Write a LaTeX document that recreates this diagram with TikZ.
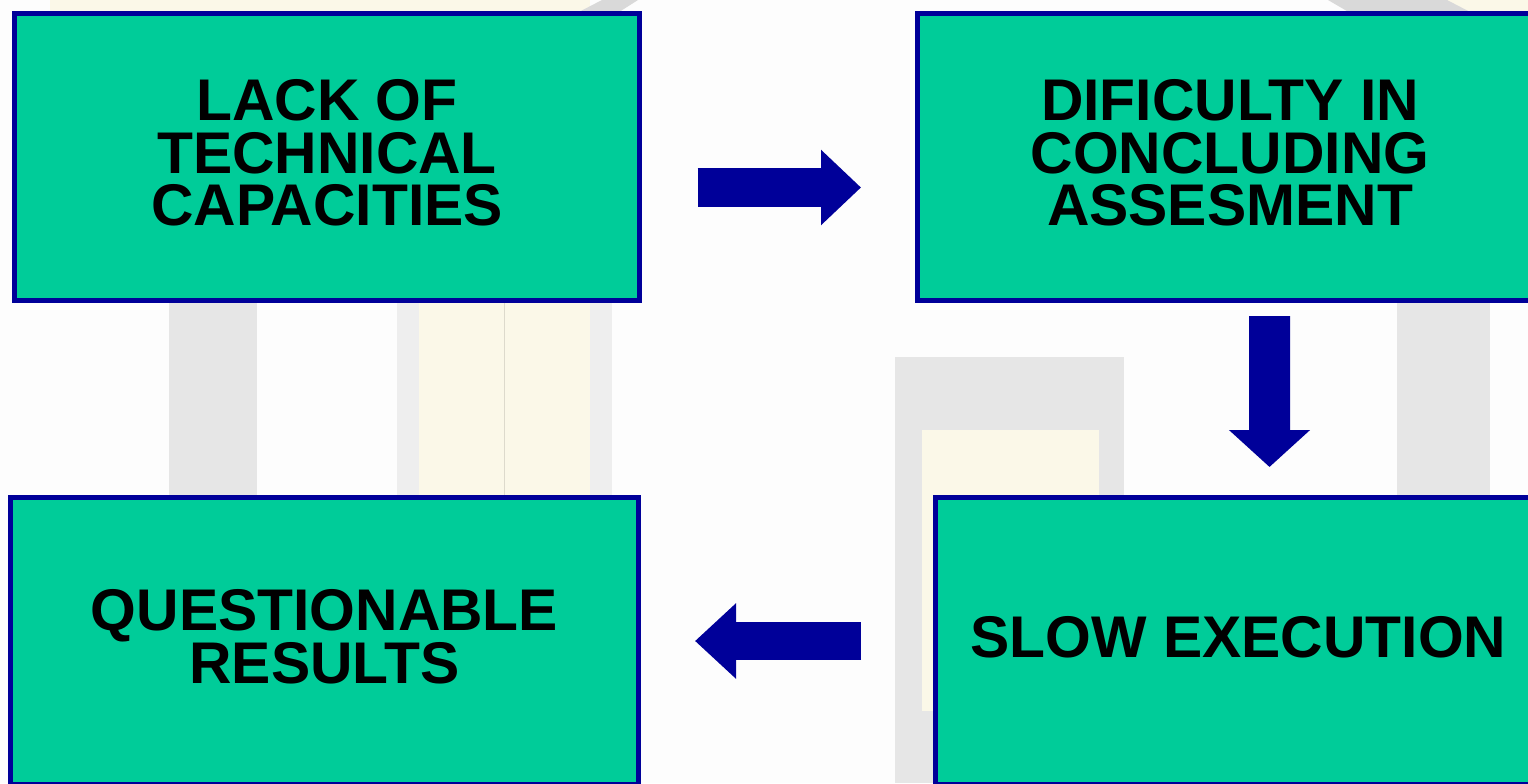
\documentclass[tikz,border=0pt]{standalone}
\usepackage{fontspec}
\setmainfont{Liberation Sans}
\usetikzlibrary{arrows.meta}
\definecolor{boxfill}{HTML}{00CC99}
\definecolor{boxline}{HTML}{000099}
\definecolor{bggray}{HTML}{E6E6E6}
\definecolor{bgdiag}{HTML}{D9D9D9}
\definecolor{bglight}{HTML}{EEEEEE}
\definecolor{bgcream}{HTML}{FBF8E8}
\definecolor{bgpage}{HTML}{FDFDFD}
\tikzset{
  x=1bp,y=-1bp,
  stepbox/.style={draw=boxline,fill=boxfill,line width=5bp,inner sep=0pt,
    minimum width=#1,minimum height=287bp,anchor=north west,align=center,
    text depth=9bp,
    font=\bfseries\fontsize{58.8bp}{52.5bp}\selectfont,text=black},
  flowarrow/.style n args={3}{draw=boxline,line width=#1,
    -{Triangle[length=#2,width=#3,fill=boxline]}},
  bgband/.style={draw=none,fill=bggray},
}
\begin{document}
\begin{tikzpicture}
\useasboundingbox (0,0) rectangle (1528,783);
\clip (0,0) rectangle (1528,783);
\fill[bgpage] (0,0) rectangle (1528,783);
% faint background picture
\fill[bgcream] (50,0) rectangle (590,14);
\fill[bgcream] (1440,0) rectangle (1528,14);
\fill[bgdiag] (575,14) -- (602,0) -- (638,0) -- (616,14) -- cycle;
\fill[bgdiag] (1328,0) -- (1447,0) -- (1474,14) -- (1352,14) -- cycle;
\fill[bgband] (169,300) rectangle (257,498);
\fill[bglight] (397,300) rectangle (612,498);
\fill[bgcream] (419,300) rectangle (590,498);
\draw[black!12!bgcream,line width=1bp] (504,300) -- (504,498);
\fill[bgband] (1397,300) rectangle (1490,498);
\fill[bgband] (895,357) rectangle (1124,783);
\fill[bgcream] (922,430) rectangle (1099,711);
% boxes
\node[stepbox=625bp] (lack) at (12,11) {LACK OF\\TECHNICAL\\CAPACITIES};
\node[stepbox=625bp] (dific) at (915,11) {DIFICULTY IN\\CONCLUDING\\ASSESMENT};
\node[stepbox=628bp] (quest) at (8,495) {QUESTIONABLE\\RESULTS};
\node[stepbox=606bp] (slow) at (933,495) {SLOW EXECUTION};
% arrows
\draw[flowarrow={39bp}{40bp}{73bp}] ([shift={(55.5,30.5)}]lack.east) -- ([shift={(-54,30.5)}]dific.west);
\draw[flowarrow={41bp}{37bp}{79bp}] ([shift={(39.5,13)}]dific.south) -- ([shift={(31,-28)}]slow.north);
\draw[flowarrow={38bp}{41bp}{73bp}] ([xshift=-72bp]slow.west) -- ([xshift=54bp]quest.east);
\end{tikzpicture}
\end{document}
